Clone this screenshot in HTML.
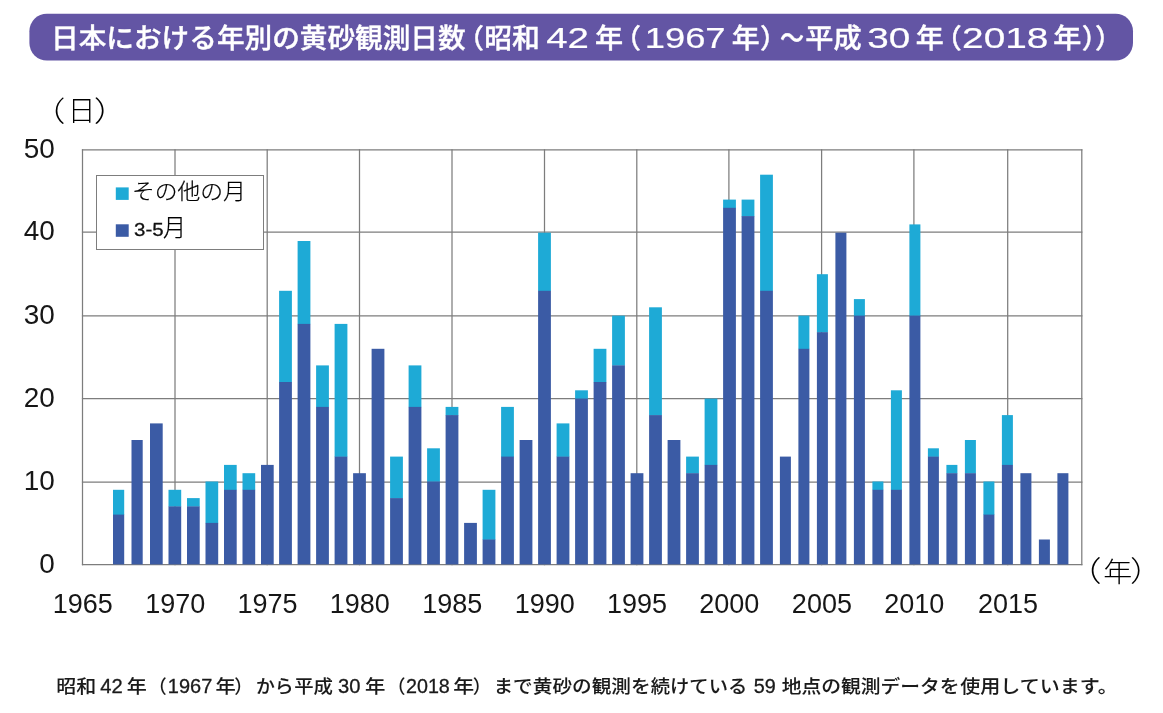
<!DOCTYPE html>
<html lang="ja">
<head>
<meta charset="utf-8">
<title>日本における年別の黄砂観測日数</title>
<style>
html,body{margin:0;padding:0;background:#fff;}
body{width:1163px;height:713px;overflow:hidden;}
svg{display:block;}
.jp{font-family:"Liberation Sans","Noto Sans CJK JP",sans-serif;}
.num{font-family:"Liberation Sans",sans-serif;}
</style>
</head>
<body>
<svg width="1163" height="713" viewBox="0 0 1163 713">
<rect x="0" y="0" width="1163" height="713" fill="#ffffff"/>
<rect x="29.4" y="13.7" width="1103.6" height="46.9" rx="17.5" ry="17.5" fill="#6355a4"/>
<g stroke="#7d7d7d" stroke-width="1.25" fill="none">
<line x1="81.9" y1="564.6" x2="1082.4" y2="564.6"/>
<line x1="81.9" y1="482.1" x2="1082.4" y2="482.1"/>
<line x1="81.9" y1="398.5" x2="1082.4" y2="398.5"/>
<line x1="81.9" y1="315.9" x2="1082.4" y2="315.9"/>
<line x1="81.9" y1="232.2" x2="1082.4" y2="232.2"/>
<line x1="81.9" y1="149.8" x2="1082.4" y2="149.8"/>
<line x1="82.5" y1="149.2" x2="82.5" y2="565.2"/>
<line x1="175.0" y1="149.2" x2="175.0" y2="565.2"/>
<line x1="267.2" y1="149.2" x2="267.2" y2="565.2"/>
<line x1="359.5" y1="149.2" x2="359.5" y2="565.2"/>
<line x1="452.0" y1="149.2" x2="452.0" y2="565.2"/>
<line x1="544.5" y1="149.2" x2="544.5" y2="565.2"/>
<line x1="636.8" y1="149.2" x2="636.8" y2="565.2"/>
<line x1="728.9" y1="149.2" x2="728.9" y2="565.2"/>
<line x1="821.6" y1="149.2" x2="821.6" y2="565.2"/>
<line x1="913.9" y1="149.2" x2="913.9" y2="565.2"/>
<line x1="1007.7" y1="149.2" x2="1007.7" y2="565.2"/>
<line x1="1081.8" y1="149.2" x2="1081.8" y2="565.2"/>
</g>
<g>
<rect x="113.0" y="489.8" width="11.2" height="25.2" fill="#1eaad6"/><rect x="113.0" y="514.6" width="11.2" height="49.8" fill="#3b5ba5"/>
<rect x="131.5" y="440.0" width="11.2" height="124.4" fill="#3b5ba5"/>
<rect x="150.0" y="423.4" width="12.7" height="141.0" fill="#3b5ba5"/>
<rect x="168.5" y="489.8" width="12.7" height="16.9" fill="#1eaad6"/><rect x="168.5" y="506.4" width="12.7" height="58.0" fill="#3b5ba5"/>
<rect x="187.0" y="498.1" width="12.7" height="8.6" fill="#1eaad6"/><rect x="187.0" y="506.4" width="12.7" height="58.0" fill="#3b5ba5"/>
<rect x="205.5" y="481.5" width="12.7" height="41.8" fill="#1eaad6"/><rect x="205.5" y="522.9" width="12.7" height="41.5" fill="#3b5ba5"/>
<rect x="224.0" y="464.9" width="12.7" height="25.2" fill="#1eaad6"/><rect x="224.0" y="489.8" width="12.7" height="74.6" fill="#3b5ba5"/>
<rect x="242.5" y="473.2" width="12.7" height="16.9" fill="#1eaad6"/><rect x="242.5" y="489.8" width="12.7" height="74.6" fill="#3b5ba5"/>
<rect x="261.0" y="464.9" width="12.7" height="99.5" fill="#3b5ba5"/>
<rect x="279.1" y="290.8" width="12.8" height="91.5" fill="#1eaad6"/><rect x="279.1" y="382.0" width="12.8" height="182.4" fill="#3b5ba5"/>
<rect x="297.6" y="241.0" width="12.8" height="83.2" fill="#1eaad6"/><rect x="297.6" y="323.9" width="12.8" height="240.5" fill="#3b5ba5"/>
<rect x="316.1" y="365.4" width="12.8" height="41.8" fill="#1eaad6"/><rect x="316.1" y="406.9" width="12.8" height="157.5" fill="#3b5ba5"/>
<rect x="334.6" y="323.9" width="12.8" height="133.0" fill="#1eaad6"/><rect x="334.6" y="456.6" width="12.8" height="107.8" fill="#3b5ba5"/>
<rect x="353.1" y="473.2" width="12.8" height="91.2" fill="#3b5ba5"/>
<rect x="371.6" y="348.8" width="12.8" height="215.6" fill="#3b5ba5"/>
<rect x="390.1" y="456.6" width="12.8" height="41.8" fill="#1eaad6"/><rect x="390.1" y="498.1" width="12.8" height="66.3" fill="#3b5ba5"/>
<rect x="408.6" y="365.4" width="12.8" height="41.8" fill="#1eaad6"/><rect x="408.6" y="406.9" width="12.8" height="157.5" fill="#3b5ba5"/>
<rect x="427.1" y="448.3" width="12.8" height="33.5" fill="#1eaad6"/><rect x="427.1" y="481.5" width="12.8" height="82.9" fill="#3b5ba5"/>
<rect x="445.6" y="406.9" width="12.8" height="8.6" fill="#1eaad6"/><rect x="445.6" y="415.1" width="12.8" height="149.3" fill="#3b5ba5"/>
<rect x="464.1" y="522.9" width="12.8" height="41.5" fill="#3b5ba5"/>
<rect x="482.6" y="489.8" width="12.8" height="50.1" fill="#1eaad6"/><rect x="482.6" y="539.5" width="12.8" height="24.9" fill="#3b5ba5"/>
<rect x="501.1" y="406.9" width="12.8" height="50.1" fill="#1eaad6"/><rect x="501.1" y="456.6" width="12.8" height="107.8" fill="#3b5ba5"/>
<rect x="519.6" y="440.0" width="12.8" height="124.4" fill="#3b5ba5"/>
<rect x="538.1" y="232.7" width="12.8" height="58.3" fill="#1eaad6"/><rect x="538.1" y="290.8" width="12.8" height="273.6" fill="#3b5ba5"/>
<rect x="556.6" y="423.4" width="12.8" height="33.5" fill="#1eaad6"/><rect x="556.6" y="456.6" width="12.8" height="107.8" fill="#3b5ba5"/>
<rect x="575.1" y="390.3" width="12.8" height="8.6" fill="#1eaad6"/><rect x="575.1" y="398.6" width="12.8" height="165.8" fill="#3b5ba5"/>
<rect x="593.6" y="348.8" width="12.8" height="33.5" fill="#1eaad6"/><rect x="593.6" y="382.0" width="12.8" height="182.4" fill="#3b5ba5"/>
<rect x="612.1" y="315.6" width="12.8" height="50.1" fill="#1eaad6"/><rect x="612.1" y="365.4" width="12.8" height="199.0" fill="#3b5ba5"/>
<rect x="630.6" y="473.2" width="12.8" height="91.2" fill="#3b5ba5"/>
<rect x="649.1" y="307.3" width="12.8" height="108.1" fill="#1eaad6"/><rect x="649.1" y="415.1" width="12.8" height="149.3" fill="#3b5ba5"/>
<rect x="667.6" y="440.0" width="12.8" height="124.4" fill="#3b5ba5"/>
<rect x="686.1" y="456.6" width="12.8" height="16.9" fill="#1eaad6"/><rect x="686.1" y="473.2" width="12.8" height="91.2" fill="#3b5ba5"/>
<rect x="704.6" y="398.6" width="12.8" height="66.6" fill="#1eaad6"/><rect x="704.6" y="464.9" width="12.8" height="99.5" fill="#3b5ba5"/>
<rect x="723.1" y="199.6" width="12.8" height="8.6" fill="#1eaad6"/><rect x="723.1" y="207.8" width="12.8" height="356.6" fill="#3b5ba5"/>
<rect x="741.6" y="199.6" width="12.8" height="16.9" fill="#1eaad6"/><rect x="741.6" y="216.1" width="12.8" height="348.3" fill="#3b5ba5"/>
<rect x="760.1" y="174.7" width="12.8" height="116.4" fill="#1eaad6"/><rect x="760.1" y="290.8" width="12.8" height="273.6" fill="#3b5ba5"/>
<rect x="779.9" y="456.6" width="11.0" height="107.8" fill="#3b5ba5"/>
<rect x="798.4" y="315.6" width="11.0" height="33.5" fill="#1eaad6"/><rect x="798.4" y="348.8" width="11.0" height="215.6" fill="#3b5ba5"/>
<rect x="816.9" y="274.2" width="11.0" height="58.3" fill="#1eaad6"/><rect x="816.9" y="332.2" width="11.0" height="232.2" fill="#3b5ba5"/>
<rect x="835.4" y="232.7" width="11.0" height="331.7" fill="#3b5ba5"/>
<rect x="853.9" y="299.1" width="11.0" height="16.9" fill="#1eaad6"/><rect x="853.9" y="315.6" width="11.0" height="248.8" fill="#3b5ba5"/>
<rect x="872.4" y="481.5" width="11.0" height="8.6" fill="#1eaad6"/><rect x="872.4" y="489.8" width="11.0" height="74.6" fill="#3b5ba5"/>
<rect x="890.9" y="390.3" width="11.0" height="99.8" fill="#1eaad6"/><rect x="890.9" y="489.8" width="11.0" height="74.6" fill="#3b5ba5"/>
<rect x="909.4" y="224.4" width="11.0" height="91.5" fill="#1eaad6"/><rect x="909.4" y="315.6" width="11.0" height="248.8" fill="#3b5ba5"/>
<rect x="927.9" y="448.3" width="11.0" height="8.6" fill="#1eaad6"/><rect x="927.9" y="456.6" width="11.0" height="107.8" fill="#3b5ba5"/>
<rect x="946.4" y="464.9" width="11.0" height="8.6" fill="#1eaad6"/><rect x="946.4" y="473.2" width="11.0" height="91.2" fill="#3b5ba5"/>
<rect x="964.9" y="440.0" width="11.0" height="33.5" fill="#1eaad6"/><rect x="964.9" y="473.2" width="11.0" height="91.2" fill="#3b5ba5"/>
<rect x="983.4" y="481.5" width="11.0" height="33.5" fill="#1eaad6"/><rect x="983.4" y="514.6" width="11.0" height="49.8" fill="#3b5ba5"/>
<rect x="1001.9" y="415.1" width="11.0" height="50.1" fill="#1eaad6"/><rect x="1001.9" y="464.9" width="11.0" height="99.5" fill="#3b5ba5"/>
<rect x="1020.4" y="473.2" width="11.0" height="91.2" fill="#3b5ba5"/>
<rect x="1038.9" y="539.5" width="11.0" height="24.9" fill="#3b5ba5"/>
<rect x="1057.4" y="473.2" width="11.0" height="91.2" fill="#3b5ba5"/>
</g>
<rect x="96.5" y="175.5" width="167" height="74" fill="#ffffff" stroke="#7d7d7d" stroke-width="1" shape-rendering="crispEdges"/>
<rect x="115.8" y="187.4" width="12.9" height="12.5" fill="#1eaad6"/>
<rect x="115.8" y="224.3" width="12.9" height="12.5" fill="#3b5ba5"/>
<g class="num" font-size="27" fill="#161616" text-anchor="end">
<text transform="translate(54.8,572.6) scale(1.035,1)">0</text>
<text transform="translate(54.8,490.1) scale(1.035,1)">10</text>
<text transform="translate(54.8,406.5) scale(1.035,1)">20</text>
<text transform="translate(54.8,323.9) scale(1.035,1)">30</text>
<text transform="translate(54.8,240.2) scale(1.035,1)">40</text>
<text transform="translate(54.8,157.8) scale(1.035,1)">50</text>
</g>
<g class="num" font-size="27" fill="#161616" text-anchor="middle">
<text x="82.8" y="613">1965</text>
<text x="175.3" y="613">1970</text>
<text x="267.5" y="613">1975</text>
<text x="359.8" y="613">1980</text>
<text x="452.3" y="613">1985</text>
<text x="544.8" y="613">1990</text>
<text x="637.1" y="613">1995</text>
<text x="729.2" y="613">2000</text>
<text x="821.9" y="613">2005</text>
<text x="914.2" y="613">2010</text>
<text x="1008.0" y="613">2015</text>
</g>
<g>
<text class="jp" font-size="27" font-weight="500" fill="#ffffff" stroke="#ffffff" stroke-width="0.4" transform="translate(51.08,47.60) scale(1.0241,1.0000)">日本における年別の黄砂観測日数</text>
<text class="jp" font-size="27" font-weight="500" fill="#ffffff" stroke="#ffffff" stroke-width="0.4" transform="translate(456.96,47.60) scale(1.0000,1.0000)">（</text>
<text class="jp" font-size="27" font-weight="500" fill="#ffffff" stroke="#ffffff" stroke-width="0.4" transform="translate(484.24,47.60) scale(1.0313,1.0000)">昭和</text>
<text class="num" font-size="29" font-weight="400" fill="#ffffff" stroke="#ffffff" stroke-width="0.2" transform="translate(546.21,47.80) scale(1.3265,1.0000)">42</text>
<text class="jp" font-size="27" font-weight="500" fill="#ffffff" stroke="#ffffff" stroke-width="0.4" transform="translate(594.94,47.60) scale(1.0407,1.0000)">年</text>
<text class="jp" font-size="27" font-weight="500" fill="#ffffff" stroke="#ffffff" stroke-width="0.4" transform="translate(613.96,47.60) scale(1.0000,1.0000)">（</text>
<text class="num" font-size="29" font-weight="400" fill="#ffffff" stroke="#ffffff" stroke-width="0.2" transform="translate(644.72,47.80) scale(1.2537,1.0000)">1967</text>
<text class="jp" font-size="27" font-weight="500" fill="#ffffff" stroke="#ffffff" stroke-width="0.4" transform="translate(731.75,47.60) scale(1.0325,1.0000)">年</text>
<text class="jp" font-size="27" font-weight="500" fill="#ffffff" stroke="#ffffff" stroke-width="0.4" transform="translate(760.08,47.60) scale(1.0000,1.0000)">）</text>
<text class="jp" font-size="27" font-weight="500" fill="#ffffff" stroke="#ffffff" stroke-width="0.4" transform="translate(780.03,47.60) scale(0.8915,1.0000)">～</text>
<text class="jp" font-size="27" font-weight="500" fill="#ffffff" stroke="#ffffff" stroke-width="0.4" transform="translate(805.21,47.60) scale(1.0442,1.0000)">平成</text>
<text class="num" font-size="29" font-weight="400" fill="#ffffff" stroke="#ffffff" stroke-width="0.2" transform="translate(867.13,47.80) scale(1.3345,1.0000)">30</text>
<text class="jp" font-size="27" font-weight="500" fill="#ffffff" stroke="#ffffff" stroke-width="0.4" transform="translate(915.75,47.60) scale(1.0366,1.0000)">年</text>
<text class="jp" font-size="27" font-weight="500" fill="#ffffff" stroke="#ffffff" stroke-width="0.4" transform="translate(934.76,47.60) scale(1.0000,1.0000)">（</text>
<text class="num" font-size="29" font-weight="400" fill="#ffffff" stroke="#ffffff" stroke-width="0.2" transform="translate(962.04,47.80) scale(1.3392,1.0000)">2018</text>
<text class="jp" font-size="27" font-weight="500" fill="#ffffff" stroke="#ffffff" stroke-width="0.4" transform="translate(1053.24,47.60) scale(1.0407,1.0000)">年</text>
<text class="jp" font-size="27" font-weight="500" fill="#ffffff" stroke="#ffffff" stroke-width="0.4" transform="translate(1081.68,47.60) scale(1.0000,1.0000)">）</text>
<text class="jp" font-size="27" font-weight="500" fill="#ffffff" stroke="#ffffff" stroke-width="0.4" transform="translate(1095.08,47.60) scale(1.0000,1.0000)">）</text>
<text class="jp" font-size="18.5" font-weight="500" fill="#1a1a1a" stroke="#1a1a1a" stroke-width="0.07" transform="translate(56.24,693.10) scale(1.0800,1.0000)">昭和</text>
<text class="num" font-size="19.4" font-weight="400" fill="#1a1a1a" stroke="#1a1a1a" stroke-width="0.3" transform="translate(100.33,693.10) scale(1.0393,1.0000)">42</text>
<text class="jp" font-size="18.5" font-weight="500" fill="#1a1a1a" stroke="#1a1a1a" stroke-width="0.07" transform="translate(126.81,693.10) scale(1.0858,1.0000)">年</text>
<text class="jp" font-size="18.5" font-weight="500" fill="#1a1a1a" stroke="#1a1a1a" stroke-width="0.07" transform="translate(148.27,693.10) scale(1.0000,1.0000)">（</text>
<text class="num" font-size="19.4" font-weight="400" fill="#1a1a1a" stroke="#1a1a1a" stroke-width="0.3" transform="translate(167.87,693.10) scale(1.0294,1.0000)">1967</text>
<text class="jp" font-size="18.5" font-weight="500" fill="#1a1a1a" stroke="#1a1a1a" stroke-width="0.07" transform="translate(215.40,693.10) scale(1.0978,1.0000)">年</text>
<text class="jp" font-size="18.5" font-weight="500" fill="#1a1a1a" stroke="#1a1a1a" stroke-width="0.07" transform="translate(234.36,693.10) scale(1.0000,1.0000)">）</text>
<text class="jp" font-size="18.5" font-weight="500" fill="#1a1a1a" stroke="#1a1a1a" stroke-width="0.07" transform="translate(255.95,693.10) scale(1.0221,1.0000)">から</text>
<text class="jp" font-size="18.5" font-weight="500" fill="#1a1a1a" stroke="#1a1a1a" stroke-width="0.07" transform="translate(294.15,693.10) scale(1.0486,1.0000)">平成</text>
<text class="num" font-size="19.4" font-weight="400" fill="#1a1a1a" stroke="#1a1a1a" stroke-width="0.3" transform="translate(338.07,693.10) scale(1.0398,1.0000)">30</text>
<text class="jp" font-size="18.5" font-weight="500" fill="#1a1a1a" stroke="#1a1a1a" stroke-width="0.07" transform="translate(365.10,693.10) scale(1.1038,1.0000)">年</text>
<text class="jp" font-size="18.5" font-weight="500" fill="#1a1a1a" stroke="#1a1a1a" stroke-width="0.07" transform="translate(387.07,693.10) scale(1.0000,1.0000)">（</text>
<text class="num" font-size="19.4" font-weight="400" fill="#1a1a1a" stroke="#1a1a1a" stroke-width="0.3" transform="translate(405.98,693.10) scale(1.0171,1.0000)">2018</text>
<text class="jp" font-size="18.5" font-weight="500" fill="#1a1a1a" stroke="#1a1a1a" stroke-width="0.07" transform="translate(453.27,693.10) scale(1.1278,1.0000)">年</text>
<text class="jp" font-size="18.5" font-weight="500" fill="#1a1a1a" stroke="#1a1a1a" stroke-width="0.07" transform="translate(472.66,693.10) scale(1.0000,1.0000)">）</text>
<text class="jp" font-size="18.5" font-weight="500" fill="#1a1a1a" stroke="#1a1a1a" stroke-width="0.07" transform="translate(493.46,693.10) scale(1.0619,1.0000)">まで黄砂の観測を</text>
<text class="jp" font-size="18.5" font-weight="500" fill="#1a1a1a" stroke="#1a1a1a" stroke-width="0.07" transform="translate(650.80,693.10) scale(1.0431,1.0000)">続けている</text>
<text class="num" font-size="19.4" font-weight="400" fill="#1a1a1a" stroke="#1a1a1a" stroke-width="0.3" transform="translate(753.82,693.10) scale(1.0210,1.0000)">59</text>
<text class="jp" font-size="18.5" font-weight="500" fill="#1a1a1a" stroke="#1a1a1a" stroke-width="0.07" transform="translate(781.76,693.10) scale(1.0685,1.0000)">地点の観測データを</text>
<text class="jp" font-size="18.5" font-weight="500" fill="#1a1a1a" stroke="#1a1a1a" stroke-width="0.07" transform="translate(960.25,693.10) scale(1.0823,1.0000)">使用しています。</text>
<text class="jp" font-size="22" font-weight="300" fill="#000" stroke="#000" stroke-width="0.2" transform="translate(131.94,199.45) scale(1.0367,1.0019)">その他の月</text>
<text class="num" font-size="19" font-weight="400" fill="#111" stroke="#111" stroke-width="0.3" transform="translate(134.10,236.20) scale(1.0791,1.0000)">3-5</text>
<text class="jp" font-size="22" font-weight="300" fill="#000" stroke="#000" stroke-width="0.2" transform="translate(163.02,235.87) scale(1.0450,1.0805)">月</text>
<text class="jp" font-size="28" font-weight="300" fill="#000" transform="translate(31.19,121.96) scale(1.2245,1.0042)">（</text>
<text class="jp" font-size="28" font-weight="300" fill="#000" transform="translate(67.73,121.49) scale(0.9881,1.0042)">日</text>
<text class="jp" font-size="28" font-weight="300" fill="#000" transform="translate(93.73,122.00) scale(1.2283,1.0062)">）</text>
<text class="jp" font-size="28" font-weight="300" fill="#000" transform="translate(1066.97,582.44) scale(1.2402,1.0158)">（</text>
<text class="jp" font-size="28" font-weight="300" fill="#000" transform="translate(1103.29,581.70) scale(1.0350,0.9798)">年</text>
<text class="jp" font-size="28" font-weight="300" fill="#000" transform="translate(1130.09,582.48) scale(1.1969,1.0177)">）</text>
</g>
</svg>
</body>
</html>
